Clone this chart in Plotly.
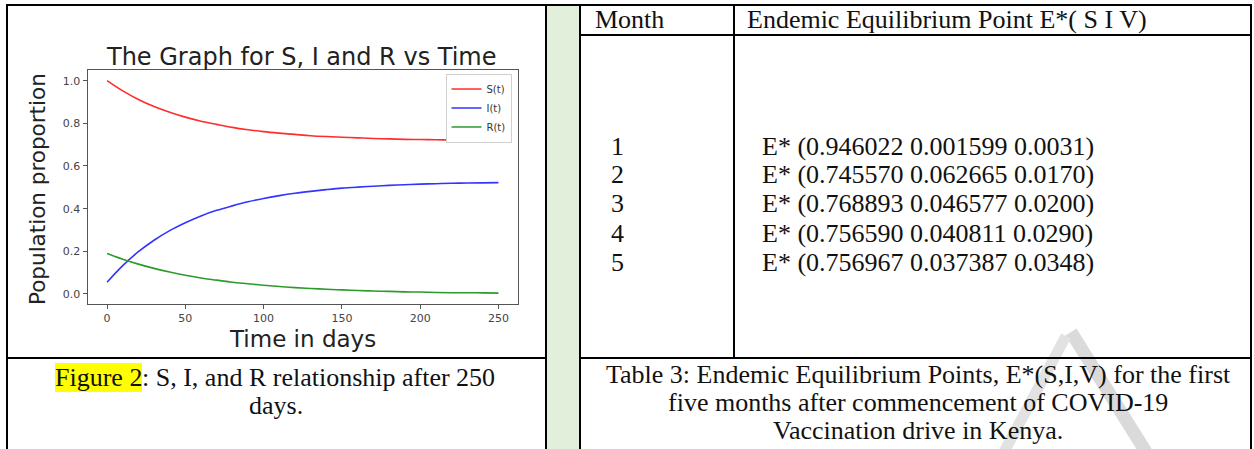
import plotly.graph_objects as go

# ---------------- data ----------------
days = [0, 10, 20, 30, 40, 50, 60, 70, 80, 90, 100, 110, 120, 130, 140, 150,
        160, 170, 180, 190, 200, 210, 220, 230, 240, 250]
S_t = [1.000, 0.952, 0.912, 0.879, 0.852, 0.829, 0.810, 0.795, 0.781, 0.770,
       0.761, 0.754, 0.748, 0.742, 0.738, 0.735, 0.732, 0.729, 0.727, 0.725,
       0.724, 0.723, 0.722, 0.721, 0.720, 0.719]
I_t = [0.055, 0.133, 0.198, 0.252, 0.297, 0.334, 0.366, 0.392, 0.413, 0.432,
       0.448, 0.461, 0.472, 0.481, 0.489, 0.496, 0.501, 0.505, 0.509, 0.512,
       0.515, 0.517, 0.519, 0.520, 0.521, 0.522]
R_t = [0.190, 0.163, 0.140, 0.120, 0.103, 0.088, 0.075, 0.065, 0.055, 0.048,
       0.041, 0.035, 0.030, 0.026, 0.022, 0.019, 0.016, 0.014, 0.012, 0.010,
       0.009, 0.007, 0.006, 0.006, 0.005, 0.004]
series_names = ["S(t)", "I(t)", "R(t)"]
x_ticks = [0, 50, 100, 150, 200, 250]
y_ticks = [0.0, 0.2, 0.4, 0.6, 0.8, 1.0]
y_tick_labels = ["0.0", "0.2", "0.4", "0.6", "0.8", "1.0"]

months = ["1", "2", "3", "4", "5"]
eq_S = ["0.946022", "0.745570", "0.768893", "0.756590", "0.756967"]
eq_I = ["0.001599", "0.062665", "0.046577", "0.040811", "0.037387"]
eq_V = ["0.0031", "0.0170", "0.0200", "0.0290", "0.0348"]

chart_title = "The Graph for S, I and R vs Time"
x_title = "Time in days"
y_title = "Population proportion"
header_month = "Month"
header_eq = "Endemic Equilibrium Point E*( S I V)"
fig_caption_hl = "Figure 2"
fig_caption_rest = ": S, I, and R relationship after 250"
fig_caption_2 = "days."
table_caption = ["Table 3: Endemic Equilibrium Points, E*(S,I,V) for the first",
                 "five months after commencement of COVID-19",
                 "Vaccination drive in Kenya."]

# ---------------- layout helpers ----------------
W, H = 1254, 449


def px(x):
    return x / W


def py(y):
    return 1 - y / H


SERIF = "Liberation Serif"
SANS = "DejaVu Sans"
TS = 26  # table text size

fig = go.Figure()
colors = ["#ff2d2d", "#3434ff", "#2c9a2c"]
for name, vals, c in zip(series_names, [S_t, I_t, R_t], colors):
    fig.add_trace(go.Scatter(x=days, y=vals, mode="lines", name=name,
                             line=dict(color=c, width=1.6, shape="spline")))

shapes = []


def hline(x0, x1, y, w=2):
    shapes.append(dict(type="line", xref="paper", yref="paper",
                       x0=px(x0), x1=px(x1), y0=py(y), y1=py(y),
                       line=dict(color="black", width=w)))


def vline(x, y0, y1, w=2):
    shapes.append(dict(type="line", xref="paper", yref="paper",
                       x0=px(x), x1=px(x), y0=py(y0), y1=py(y1),
                       line=dict(color="black", width=w)))


# green separator column
shapes.append(dict(type="rect", xref="paper", yref="paper", layer="below",
                   x0=px(546), x1=px(580), y0=py(449), y1=py(5),
                   fillcolor="#e2efda", line=dict(width=0)))
# watermark strokes
shapes.append(dict(type="line", xref="paper", yref="paper", layer="below",
                   x0=px(1071), y0=py(332), x1=px(1146), y1=py(452),
                   line=dict(color="#dadada", width=13)))
shapes.append(dict(type="line", xref="paper", yref="paper", layer="below",
                   x0=px(1066), y0=py(336), x1=px(1004), y1=py(452),
                   line=dict(color="#e2e2e2", width=11)))

hline(6, 1252, 5)
vline(7, 4, 449)
vline(1251, 4, 449)
vline(546, 4, 449)
vline(580, 4, 449)
hline(7, 546, 358)
hline(580, 1251, 358)
hline(580, 1251, 35)
vline(734, 5, 358)

ann = []


def text(x, y, s, size=TS, family=SERIF, xanchor="left", color="#111",
         **kw):
    d = dict(xref="paper", yref="paper", x=px(x), y=py(y), text=s,
             showarrow=False, xanchor=xanchor, yanchor="middle",
             borderwidth=0, borderpad=0,
             font=dict(family=family, size=size, color=color))
    d.update(kw)
    ann.append(d)


# chart texts
text(301, 57, chart_title, size=24, family=SANS, xanchor="center",
     color="#222")
text(302, 339, x_title, size=23, family=SANS, xanchor="center", color="#222")
text(37, 189, y_title, size=21.5, family=SANS, xanchor="center",
     color="#222", textangle=-90)

# figure caption
text(142, 377, fig_caption_hl, xanchor="right", bgcolor="#ffff00")
text(142, 377, fig_caption_rest, xanchor="left")
text(276, 405, fig_caption_2, xanchor="center")

# table header
text(595, 20, header_month)
text(747, 20, header_eq)
row_y = [146, 175, 204, 233, 262]
for m, s, i, v, y in zip(months, eq_S, eq_I, eq_V, row_y):
    text(617, y, m, xanchor="center")
    text(762, y, "E* (%s %s %s)" % (s, i, v))

for line, y in zip(table_caption, [374, 402, 430]):
    text(918, y, line, xanchor="center")

axis_common = dict(showline=True, mirror=True, linecolor="#555", linewidth=1,
                   ticks="outside", ticklen=4, tickcolor="#555",
                   tickfont=dict(family=SANS, size=11, color="#444"),
                   showgrid=False, zeroline=False)

fig.update_layout(
    width=W, height=H,
    margin=dict(l=0, r=0, t=0, b=0),
    paper_bgcolor="white", plot_bgcolor="white",
    showlegend=True,
    legend=dict(x=px(511.5), y=py(73.5), xanchor="right", yanchor="top",
                bgcolor="white", bordercolor="#d0d0d0", borderwidth=1,
                font=dict(family=SANS, size=10, color="#333"),
                itemwidth=30, tracegroupgap=0),
    xaxis=dict(domain=[px(87.5), px(518)], range=[-12.5, 262.5],
               tickvals=x_ticks, **axis_common),
    yaxis=dict(domain=[py(304), py(70)], range=[-0.047, 1.05],
               tickvals=y_ticks, ticktext=y_tick_labels, **axis_common),
    shapes=shapes,
    annotations=ann,
)

fig.write_html("out.html",
               config={"displayModeBar": False},
               post_script="document.body.style.margin='0';"
                           "document.body.style.overflow='hidden';")
